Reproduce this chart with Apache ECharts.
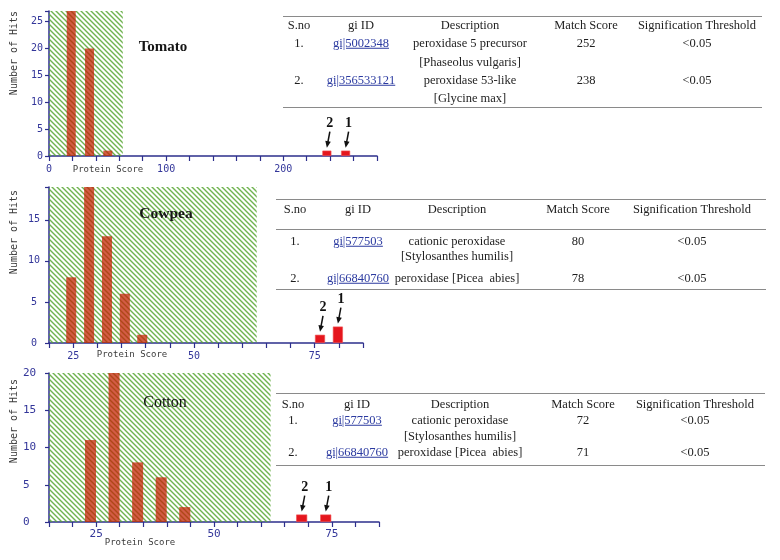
<!DOCTYPE html>
<html><head><meta charset="utf-8">
<script src="https://cdn.jsdelivr.net/npm/echarts@6/dist/echarts.min.js"></script>
<style>
html,body{margin:0;padding:0;background:#fff;}
#wrap{position:relative;width:780px;height:560px;overflow:hidden;background:#fff;}
#chart{position:absolute;left:0;top:0;width:780px;height:560px;}
#tables{position:absolute;left:0;top:0;width:780px;height:560px;pointer-events:none;font-family:"Liberation Serif","Times New Roman",serif;font-size:12.5px;color:#1e1e1e;}
.cell{position:absolute;white-space:pre;transform:translate(-50%,-50%);line-height:1;}
.rule{position:absolute;height:0;border-top:1.5px solid #8a8a8a;}
.link{color:#2b3aa0;text-decoration:underline;}
</style></head>
<body><div id="wrap"><div id="chart"></div><div id="tables"></div></div>
<script>
// ---------------- data ----------------
const tomatoScores = [19, 34.6, 50.2];
const tomatoHits = [27, 20, 1];
const tomatoTopScores = [237.2, 253.2];
const tomatoTopHits = [1, 1];
const tomatoTopRanks = ['2', '1'];
const tomatoThreshold = 63;
const tomatoXRange = [0, 280];
const tomatoXStep = 20;
const tomatoXLabels = [0, 100, 200];
const tomatoYMax = 27;

const cowpeaScores = [24.6, 28.3, 32.0, 35.7, 39.3];
const cowpeaHits = [8, 19, 13, 6, 1];
const cowpeaTopScores = [76.1, 79.8];
const cowpeaTopHits = [1, 2];
const cowpeaTopRanks = ['2', '1'];
const cowpeaThreshold = 63;
const cowpeaXRange = [20, 85];
const cowpeaXStep = 5;
const cowpeaXLabels = [25, 50, 75];
const cowpeaYMax = 19;

const cottonScores = [23.8, 28.8, 33.8, 38.8, 43.8];
const cottonHits = [11, 20, 8, 6, 2];
const cottonTopScores = [68.6, 73.7];
const cottonTopHits = [1, 1];
const cottonTopRanks = ['2', '1'];
const cottonThreshold = 62;
const cottonXRange = [15, 85];
const cottonXStep = 5;
const cottonXLabels = [25, 50, 75];
const cottonYMax = 20;

const yStep = 5;
const panelNames = ['Tomato', 'Cowpea', 'Cotton'];
const yAxisName = 'Number of Hits';
const xAxisName = 'Protein Score';

const tableHeader = ['S.no', 'gi ID', 'Description', 'Match Score', 'Signification Threshold'];
const tomatoTable = [
  ['1.', 'gi|5002348', 'peroxidase 5 precursor', '[Phaseolus vulgaris]', '252', '<0.05'],
  ['2.', 'gi|356533121', 'peroxidase 53-like', '[Glycine max]', '238', '<0.05']
];
const cowpeaTable = [
  ['1.', 'gi|577503', 'cationic peroxidase', '[Stylosanthes humilis]', '80', '<0.05'],
  ['2.', 'gi|66840760', 'peroxidase [Picea  abies]', '', '78', '<0.05']
];
const cottonTable = [
  ['1.', 'gi|577503', 'cationic peroxidase', '[Stylosanthes humilis]', '72', '<0.05'],
  ['2.', 'gi|66840760', 'peroxidase [Picea  abies]', '', '71', '<0.05']
];

// ---------------- layout ----------------
const panels = [
  { scores: tomatoScores, hits: tomatoHits, topS: tomatoTopScores, topH: tomatoTopHits, ranks: tomatoTopRanks,
    thr: tomatoThreshold, xr: tomatoXRange, xs: tomatoXStep, xl: tomatoXLabels, ymax: tomatoYMax,
    grid: { left: 49, top: 11, width: 328, height: 145 }, barW: 9,
    yLab: { align: 'right', margin: 6, size: 10 }, xLab: { margin: 8, size: 10 },
    title: { x: 163, y: 47, weight: 'bold', size: 15 }, hitsPos: [14, 53], scorePos: [108, 170] },
  { scores: cowpeaScores, hits: cowpeaHits, topS: cowpeaTopScores, topH: cowpeaTopHits, ranks: cowpeaTopRanks,
    thr: cowpeaThreshold, xr: cowpeaXRange, xs: cowpeaXStep, xl: cowpeaXLabels, ymax: cowpeaYMax,
    grid: { left: 49, top: 187, width: 314, height: 156 }, barW: 10,
    yLab: { align: 'center', margin: 15, size: 10 }, xLab: { margin: 8, size: 10 },
    title: { x: 166, y: 214, weight: 'bold', size: 15.5 }, hitsPos: [14, 232], scorePos: [132, 355] },
  { scores: cottonScores, hits: cottonHits, topS: cottonTopScores, topH: cottonTopHits, ranks: cottonTopRanks,
    thr: cottonThreshold, xr: cottonXRange, xs: cottonXStep, xl: cottonXLabels, ymax: cottonYMax,
    grid: { left: 49, top: 373, width: 330, height: 149 }, barW: 11,
    yLab: { align: 'left', margin: 26, size: 11 }, xLab: { margin: 7, size: 11 },
    title: { x: 165, y: 403, weight: 'normal', size: 16 }, hitsPos: [14, 421], scorePos: [140, 543] }
];

const tableLayouts = [
  { x0: 283, x1: 762, cols: [299, 361, 470, 586, 697], rules: [16, 107], headerY: 25, rowY: [[43, 62], [80, 98]], data: tomatoTable },
  { x0: 276, x1: 766, cols: [295, 358, 457, 578, 692], rules: [199, 229, 289], headerY: 209, rowY: [[241, 256], [278, null]], data: cowpeaTable },
  { x0: 276, x1: 765, cols: [293, 357, 460, 583, 695], rules: [393, 465], headerY: 404, rowY: [[420, 436], [452, null]], data: cottonTable }
];

const AXIS = '#2d2f8c';
const TICKLAB = '#33369a';
const MONO = '"DejaVu Sans Mono", monospace';
const SERIF = '"Liberation Serif", "Times New Roman", serif';

// hatch pattern
function makeHatch() {
  const s = 5;
  const c = document.createElement('canvas');
  c.width = s; c.height = s;
  const g = c.getContext('2d');
  g.strokeStyle = 'rgba(86,166,48,0.85)';
  g.lineWidth = 1.4;
  g.beginPath();
  [-s, 0, s].forEach(k => { g.moveTo(-1, k - 1); g.lineTo(s + 1, s + k + 1); });
  g.stroke();
  return c;
}
const hatch = { image: makeHatch(), repeat: 'repeat' };

// ---------------- tables (HTML text) ----------------
const tdiv = document.getElementById('tables');
function addCell(text, x, y, cls) {
  const d = document.createElement('div');
  d.className = 'cell' + (cls ? ' ' + cls : '');
  d.textContent = text;
  d.style.left = x + 'px'; d.style.top = y + 'px';
  tdiv.appendChild(d);
}
tableLayouts.forEach(t => {
  t.rules.forEach(y => {
    const r = document.createElement('div');
    r.className = 'rule';
    r.style.left = t.x0 + 'px'; r.style.width = (t.x1 - t.x0) + 'px'; r.style.top = y + 'px';
    tdiv.appendChild(r);
  });
  tableHeader.forEach((h, i) => addCell(h, t.cols[i], t.headerY));
  t.data.forEach((row, ri) => {
    const [y1, y2] = t.rowY[ri];
    addCell(row[0], t.cols[0], y1);
    addCell(row[1], t.cols[1], y1, 'link');
    addCell(row[2], t.cols[2], y1);
    if (row[3] && y2 != null) addCell(row[3], t.cols[2], y2);
    addCell(row[4], t.cols[3], y1);
    addCell(row[5], t.cols[4], y1);
  });
});

// ---------------- chart ----------------
const chart = echarts.init(document.getElementById('chart'), null, { renderer: 'canvas' });

const grids = [], xAxes = [], yAxes = [], series = [];
panels.forEach((p, i) => {
  grids.push(Object.assign({ containLabel: false, outerBoundsMode: 'none' }, p.grid));
  xAxes.push({
    type: 'value', gridIndex: i, min: p.xr[0], max: p.xr[1], interval: p.xs,
    axisLine: { show: true, lineStyle: { color: AXIS, width: 1.5 } },
    axisTick: { show: true, length: 5, lineStyle: { color: AXIS, width: 1.2 } },
    splitLine: { show: false },
    axisLabel: {
      show: true, margin: p.xLab.margin, color: TICKLAB, fontFamily: MONO, fontSize: p.xLab.size,
      showMinLabel: true, showMaxLabel: true,
      formatter: v => (p.xl.indexOf(Math.round(v)) >= 0 ? String(Math.round(v)) : '')
    }
  });
  yAxes.push({
    type: 'value', gridIndex: i, min: 0, max: p.ymax, interval: yStep,
    axisLine: { show: true, lineStyle: { color: AXIS, width: 1.5 } },
    axisTick: { show: true, length: 4, lineStyle: { color: AXIS, width: 1.2 } },
    splitLine: { show: false },
    axisLabel: { show: true, margin: p.yLab.margin, align: p.yLab.align, color: TICKLAB, fontFamily: MONO, fontSize: p.yLab.size,
      showMinLabel: true, showMaxLabel: true,
      formatter: v => (Math.abs(v / yStep - Math.round(v / yStep)) < 1e-6 ? String(v) : '') }
  });
  // non-significant (hatched) region
  series.push({
    type: 'custom', xAxisIndex: i, yAxisIndex: i, z: 1, silent: true,
    data: [[p.xr[0], p.thr, p.ymax]],
    renderItem: (params, api) => {
      const a = api.coord([api.value(0), api.value(2)]);
      const b = api.coord([api.value(1), 0]);
      return { type: 'rect', shape: { x: a[0], y: a[1], width: b[0] - a[0], height: b[1] - a[1] },
        style: { fill: hatch } };
    }
  });
  series.push({
    type: 'bar', xAxisIndex: i, yAxisIndex: i, z: 3, barWidth: p.barW, barGap: '-100%',
    data: p.scores.map((s, k) => [s, p.hits[k]]),
    itemStyle: { color: 'rgba(196,34,4,0.74)' }, silent: true
  });
  series.push({
    type: 'bar', xAxisIndex: i, yAxisIndex: i, z: 3, barWidth: p.barW, barGap: '-100%',
    data: p.topS.map((s, k) => [s, p.topH[k]]),
    itemStyle: { color: '#e5161d', borderColor: '#f05050', borderWidth: 0.6 }, silent: true
  });
});

chart.setOption({
  animation: false,
  backgroundColor: '#fff',
  grid: grids, xAxis: xAxes, yAxis: yAxes, series: series
});

// annotations derived from the axes' scales
const g = [];
function txt(text, x, y, font, fill, rot) {
  return { type: 'text', x: x, y: y, rotation: rot || 0, silent: true, z: 10,
    style: { text: text, font: font, fill: fill, align: 'center', verticalAlign: 'middle',
      textAlign: 'center', textVerticalAlign: 'middle' } };
}
panels.forEach((p, i) => {
  g.push(txt(panelNames[i], p.title.x, p.title.y, p.title.weight + ' ' + p.title.size + 'px ' + SERIF, '#161616'));
  g.push(txt(yAxisName, p.hitsPos[0], p.hitsPos[1], '10px ' + MONO, '#3a3a3a', Math.PI / 2));
  g.push(txt(xAxisName, p.scorePos[0], p.scorePos[1], '9px ' + MONO, '#3a3a3a'));
  p.topS.forEach((s, k) => {
    const pt = chart.convertToPixel({ gridIndex: i }, [s, p.topH[k]]);
    const sx = pt[0] + 3, sy = pt[1] - 19, tx = pt[0], ty = pt[1] - 3;
    const dx = tx - sx, dy = ty - sy, len = Math.sqrt(dx * dx + dy * dy);
    const ux = dx / len, uy = dy / len, nx = -uy, ny = ux;
    const bx = tx - ux * 6.5, by = ty - uy * 6.5;
    g.push({ type: 'line', silent: true, z: 10, shape: { x1: sx, y1: sy, x2: bx + ux, y2: by + uy },
      style: { stroke: '#111', lineWidth: 1.5 } });
    g.push({ type: 'polygon', silent: true, z: 10,
      shape: { points: [[tx, ty], [bx + nx * 2.8, by + ny * 2.8], [bx - nx * 2.8, by - ny * 2.8]] },
      style: { fill: '#111' } });
    g.push(txt(p.ranks[k], sx, pt[1] - 27, 'bold 14px ' + SERIF, '#111'));
  });
});
chart.setOption({ graphic: { elements: g } });
</script>
</body></html>
